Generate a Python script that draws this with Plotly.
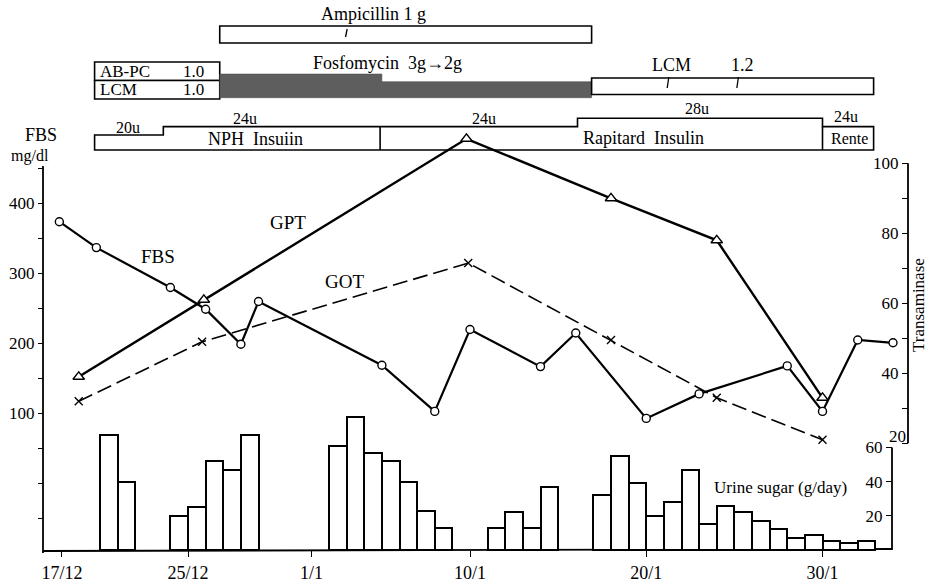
import plotly.graph_objects as go

W, H = 929, 585

# ---------------- data (x in days counted from 17/12) ----------------
tick_days = [0.85, 8, 15, 24, 34, 44]
tick_labels = ["17/12", "25/12", "1/1", "10/1", "20/1", "30/1"]

fbs_days = [0.7, 2.8, 7, 9, 11, 12, 19, 22, 24, 28, 30, 34, 37, 42, 44, 46, 48]
fbs_vals = [374, 337, 280, 249, 199, 260, 169, 103, 220, 167, 215, 93, 128, 168, 103, 205, 201]

gpt_days = [1.8, 8.9, 23.8, 32, 38, 44]
gpt_vals = [39, 61, 107, 90, 78, 33]

got_days = [1.8, 8.8, 23.9, 32, 38, 44]
got_vals = [32, 49, 71.5, 49.5, 33, 21]

urine_days = [3, 4,
              7, 8, 9, 10, 11,
              16, 17, 18, 19, 20, 21, 22,
              25, 26, 27, 28,
              31, 32, 33, 34, 35, 36, 37, 38, 39, 40, 41, 42, 43, 44, 45, 46]
urine_vals = [67, 40,
              20, 25, 52, 47, 67,
              61, 78, 57, 52, 40, 23, 13,
              13, 22, 13, 37,
              32, 55, 39, 20, 28, 47, 15, 26, 22, 17, 12, 7, 9, 5, 4, 5]

fbs_ticks = [-50, 0, 50, 100, 150, 200, 250, 300, 350, 400, 450]
fbs_ticktext = ["", "", "", "100", "", "200", "", "300", "", "400", ""]
tr_ticks = [20, 30, 40, 50, 60, 70, 80, 90, 100]
tr_ticktext = ["", "", "40", "", "60", "", "80", "", "100"]
us_ticks = [20, 40, 60]
us_ticktext = ["20", "40", "60"]

# treatment spans (days)
ampicillin_span = [9.8, 30.9]
ampicillin_marks = [17.0]
abpc_lcm_span = [2.7, 9.8]
fosfo_change = [9.8, 19.0, 30.9]      # 3g -> 2g
lcm_span = [30.9, 46.9]
lcm_marks = [35.25, 39.2]
ins_starts = [2.7, 6.6, 18.9, 30.1, 44.0]
ins_ends = [6.6, 18.9, 30.1, 44.0, 46.9]
ins_doses = [20, 24, 24, 28, 24]
ins_kinds = ["NPH", "NPH", "Rapitard", "Rapitard", "Rente"]

# ---------------- layout helpers ----------------
X0PX, XSCALE = 47.0, 17.625
def xr(px):
    return (px - X0PX) / XSCALE
def py(p):
    return 1 - p / H
def px_(p):
    return p / W

FONT = "Liberation Serif"
BLACK = "black"

fig = go.Figure()

# urine sugar bars
fig.add_trace(go.Bar(
    x=[d + 0.5 for d in urine_days], y=urine_vals, width=1.0,
    marker=dict(color="white", line=dict(color=BLACK, width=2)),
    yaxis="y3", showlegend=False, hoverinfo="skip"))

# GOT
fig.add_trace(go.Scatter(
    x=got_days, y=got_vals, yaxis="y2", mode="lines+markers",
    line=dict(color=BLACK, width=1.6, dash="15px,6px"),
    marker=dict(symbol="x-thin", size=8, line=dict(color=BLACK, width=1.4)),
    showlegend=False))
# GPT
fig.add_trace(go.Scatter(
    x=gpt_days, y=gpt_vals, yaxis="y2", mode="lines+markers",
    line=dict(color=BLACK, width=2.4),
    marker=dict(symbol="triangle-up", size=10, color="white", line=dict(color=BLACK, width=1.4)),
    showlegend=False))
# FBS
fig.add_trace(go.Scatter(
    x=fbs_days, y=fbs_vals, yaxis="y", mode="lines+markers",
    line=dict(color=BLACK, width=2.2),
    marker=dict(symbol="circle", size=8, color="white", line=dict(color=BLACK, width=1.4)),
    showlegend=False))

shapes = []
def line_paper(x0, y0, x1, y1, w=1.6):
    shapes.append(dict(type="line", xref="paper", yref="paper",
                       x0=px_(x0), y0=py(y0), x1=px_(x1), y1=py(y1),
                       line=dict(color=BLACK, width=w), layer="below"))

# axis lines
line_paper(43, 166, 43, 553, 1.8)        # FBS axis
line_paper(43, 551, 892, 549, 1.8)       # baseline
line_paper(908, 163.3, 908, 443.3, 1.8)  # transaminase axis
line_paper(892, 447.4, 892, 550, 1.8)    # urine axis

def rect_x(x0, x1, ytop, ybot, fill="white", w=1.6):
    shapes.append(dict(type="rect", xref="x", yref="paper", x0=x0, x1=x1,
                       y0=py(ybot), y1=py(ytop), fillcolor=fill,
                       line=dict(color=BLACK, width=w), layer="below"))

# Ampicillin
rect_x(ampicillin_span[0], ampicillin_span[1], 26, 43)
for m in ampicillin_marks:
    shapes.append(dict(type="line", xref="x", yref="paper", x0=m - 0.06, x1=m + 0.03,
                       y0=py(37), y1=py(29), line=dict(color=BLACK, width=1.3)))
# AB-PC / LCM boxes
rect_x(abpc_lcm_span[0], abpc_lcm_span[1], 62, 80.5)
rect_x(abpc_lcm_span[0], abpc_lcm_span[1], 80.5, 99)
# Fosfomycin shaded
fx0, fx1, fx2 = fosfo_change
shapes.append(dict(type="path", xref="x", yref="paper",
                   path=f"M {fx0},{py(97.7)} L {fx0},{py(74)} L {fx1},{py(74)} L {fx1},{py(81.7)} "
                        f"L {fx2},{py(81.7)} L {fx2},{py(97.7)} Z",
                   fillcolor="#5e5e5e", line=dict(color="#444444", width=0.5), layer="below"))
# LCM 1.2
rect_x(lcm_span[0], lcm_span[1], 78, 94.5)
for m in lcm_marks:
    shapes.append(dict(type="line", xref="x", yref="paper", x0=m - 0.06, x1=m + 0.03,
                       y0=py(88), y1=py(77), line=dict(color=BLACK, width=1.3)))

# Insulin stepped outline
INS_BOT = 150.0
def ins_top(d):
    return 150.0 - 2.09 * (d - 12.8)
pts = [(ins_starts[0], INS_BOT)]
for s, e, d in zip(ins_starts, ins_ends, ins_doses):
    t = ins_top(d)
    pts.append((s, t))
    pts.append((e, t))
pts.append((ins_ends[-1], INS_BOT))
path = "M " + " L ".join(f"{x},{py(y)}" for x, y in pts) + " Z"
shapes.append(dict(type="path", xref="x", yref="paper", path=path,
                   fillcolor="white", line=dict(color=BLACK, width=1.6), layer="below"))
for i in range(1, len(ins_starts)):
    if ins_kinds[i] != ins_kinds[i - 1]:
        top = max(ins_top(ins_doses[i]), ins_top(ins_doses[i - 1]))
        shapes.append(dict(type="line", xref="x", yref="paper", x0=ins_starts[i], x1=ins_starts[i],
                           y0=py(INS_BOT), y1=py(top),
                           line=dict(color=BLACK, width=1.6), layer="below"))

annotations = []
def text(t, x, y, size=16, xanchor="center", angle=0):
    annotations.append(dict(text=t, x=px_(x), y=py(y), xref="paper", yref="paper",
                            showarrow=False, xanchor=xanchor, yanchor="middle",
                            textangle=angle, font=dict(family=FONT, size=size, color=BLACK)))

text("Ampicillin 1 g", 373, 14, 18)
text("Fosfomycin  3g→2g", 387, 63, 18)
text("AB-PC", 98, 71, 17, "left")
text("1.0", 206, 71, 17, "right")
text("LCM", 98, 89.5, 17, "left")
text("1.0", 206, 89.5, 17, "right")
text("LCM", 671, 65, 18)
text("1.2", 742, 65, 18)
text("20u", 128, 127, 16)
text("24u", 245, 119, 16)
text("24u", 484, 119, 16)
text("28u", 697, 108, 16)
text("24u", 846, 117, 16)
text("NPH  Insuiin", 256, 139, 18)
text("Rapitard  Insulin", 643, 137.5, 18)
text("Rente", 849, 138, 16)
text("FBS", 41, 135, 18)
text("mg/dl", 30, 156, 16)
text("FBS", 158, 256, 19)
text("GPT", 288, 222, 19)
text("GOT", 344, 281, 19)
text("20", 897, 436, 17)
text("Transaminase", 918, 305, 17, angle=-90)
text("Urine sugar (g/day)", 780, 487, 17)

fig.update_layout(
    width=W, height=H, autosize=False,
    margin=dict(l=0, r=0, t=0, b=0, pad=0),
    paper_bgcolor="white", plot_bgcolor="white",
    showlegend=False, bargap=0,
    font=dict(family=FONT, color=BLACK),
    shapes=shapes, annotations=annotations,
    xaxis=dict(domain=[0, 1], range=[xr(0), xr(W)], anchor="free", position=py(550),
               showgrid=False, zeroline=False, showline=False,
               tickmode="array", tickvals=tick_days, ticktext=tick_labels,
               ticks="outside", ticklen=6, tickwidth=1.3, tickcolor=BLACK,
               tickfont=dict(family=FONT, size=18, color=BLACK)),
    yaxis=dict(domain=[0, 1], range=[100 - (H - 413.5) / 0.7, 100 + 413.5 / 0.7],
               anchor="free", position=px_(43), side="left",
               showgrid=False, zeroline=False, showline=False,
               tickmode="array", tickvals=fbs_ticks, ticktext=fbs_ticktext,
               ticks="outside", ticklen=5, tickwidth=1.3, tickcolor=BLACK,
               tickfont=dict(family=FONT, size=17, color=BLACK)),
    yaxis2=dict(domain=[0, 1], range=[100 - (H - 163.3) / 3.5, 100 + 163.3 / 3.5],
                overlaying="y", anchor="free", position=px_(908), side="left",
                showgrid=False, zeroline=False, showline=False,
                tickmode="array", tickvals=tr_ticks, ticktext=tr_ticktext,
                ticks="outside", ticklen=6, tickwidth=1.3, tickcolor=BLACK,
                tickfont=dict(family=FONT, size=17, color=BLACK)),
    yaxis3=dict(domain=[0, 1], range=[-(H - 550) / 1.71, 550 / 1.71],
                overlaying="y", anchor="free", position=px_(892), side="left",
                showgrid=False, zeroline=False, showline=False,
                tickmode="array", tickvals=us_ticks, ticktext=us_ticktext,
                ticks="outside", ticklen=6, tickwidth=1.3, tickcolor=BLACK,
                tickfont=dict(family=FONT, size=17, color=BLACK)),
)

fig.write_html("out.html", config={"displayModeBar": False},
               post_script="document.body.style.margin='0px';document.body.style.overflow='hidden';")
